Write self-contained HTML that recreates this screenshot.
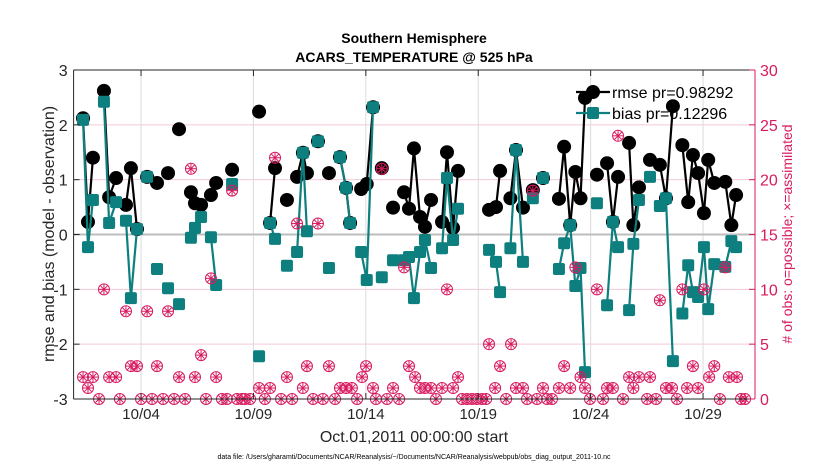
<!DOCTYPE html>
<html><head><meta charset="utf-8">
<style>
html,body{margin:0;padding:0;background:#fff;}
svg{display:block;font-family:"Liberation Sans",sans-serif;}
</style></head>
<body>
<svg id="chart" width="830" height="470" viewBox="0 0 830 470"></svg>
<script>
// ---- data ----
const xTickDays = [3, 8, 13, 18, 23, 28];
const xTickLabels = ["10/04", "10/09", "10/14", "10/19", "10/24", "10/29"];
const yTicksLeft = [-3, -2, -1, 0, 1, 2, 3];
const yTicksRight = [0, 5, 10, 15, 20, 25, 30];

const statDays = [0.42,0.64,0.86,1.35,1.58,1.89,2.33,2.55,2.82,3.27,3.71,4.20,4.69,5.22,5.40,5.67,6.11,6.34,7.05,8.25,8.74,8.96,9.49,9.94,10.20,10.38,10.87,11.36,11.85,12.12,12.30,12.79,13.04,13.32,13.71,14.21,14.70,14.92,15.14,15.41,15.63,15.90,16.39,16.61,16.88,17.10,18.48,18.79,18.97,19.43,19.68,19.99,20.43,20.88,21.59,21.82,22.09,22.32,22.55,22.75,23.28,23.73,23.99,24.22,24.71,24.90,25.15,25.64,26.08,26.35,26.66,27.08,27.34,27.55,27.78,28.04,28.23,28.50,28.99,29.26,29.47];
const rmseVals = [2.12,0.23,1.40,2.62,0.68,1.03,0.54,1.21,0.10,1.05,0.94,1.12,1.92,0.77,0.57,0.54,0.72,0.94,1.18,2.24,0.21,1.21,0.63,1.05,1.49,1.12,1.70,1.12,1.41,0.85,0.21,0.83,0.92,2.32,1.21,0.49,0.77,0.47,1.57,0.32,0.14,0.63,0.23,1.50,0.12,1.16,0.45,0.50,1.16,0.66,1.54,0.49,0.81,1.03,0.65,1.60,0.17,1.14,0.66,2.49,1.09,1.30,0.23,1.05,1.67,0.17,0.86,1.36,1.27,0.66,2.34,1.63,0.59,1.45,1.12,0.39,1.36,0.94,0.96,0.17,0.72];
const biasVals = [2.09,-0.23,0.63,2.42,0.21,0.59,0.25,-1.16,0.10,1.05,-0.63,-0.98,-1.27,-0.06,0.12,0.32,-0.05,-0.92,0.92,-2.22,0.21,-0.08,-0.57,-0.32,1.49,0.06,1.70,-0.61,1.41,0.85,0.21,-0.32,-0.83,2.32,-0.78,-0.47,-0.47,-0.41,-1.16,-0.32,-0.10,-0.61,-0.25,1.03,-0.10,0.47,-0.28,-0.50,-1.05,-0.25,1.54,-0.50,0.66,1.03,-0.63,-0.16,0.17,-0.94,-0.61,-2.51,0.57,-1.29,0.23,-0.23,-1.38,-0.17,0.63,1.05,0.52,0.66,-2.31,-1.44,-0.56,-1.05,-1.14,-0.23,-1.36,-0.54,-0.59,-0.12,-0.23];

const obsDays = [0.42,0.64,0.86,1.13,1.35,1.58,1.89,2.06,2.33,2.55,2.82,3.00,3.27,3.49,3.71,3.98,4.20,4.47,4.69,4.96,5.22,5.40,5.67,5.89,6.11,6.34,6.60,6.82,7.05,7.27,7.49,7.62,7.85,8.25,8.51,8.74,8.96,9.23,9.49,9.72,9.94,10.20,10.38,10.65,10.87,11.09,11.36,11.63,11.85,12.12,12.38,12.61,12.83,13.01,13.32,13.45,13.71,13.94,14.21,14.48,14.70,14.92,15.19,15.41,15.63,15.90,16.12,16.39,16.61,16.88,17.10,17.28,17.50,17.72,17.94,18.17,18.35,18.48,18.75,18.97,19.24,19.46,19.68,19.99,20.17,20.43,20.61,20.88,21.06,21.28,21.59,21.82,22.09,22.32,22.55,22.75,22.97,23.28,23.55,23.73,23.99,24.22,24.44,24.71,24.90,25.15,25.51,25.64,25.91,26.08,26.35,26.62,26.84,27.08,27.29,27.55,27.78,28.04,28.27,28.50,28.75,28.99,29.15,29.51,29.69,29.87];
const obsCounts = [2,1,2,0,10,2,2,0,8,3,3,0,8,0,3,0,8,0,2,0,21,2,4,0,11,2,0,0,19,0,0,0,0,1,0,1,22,0,2,0,16,1,3,0,16,0,3,0,1,1,1,0,2,3,1,0,21,0,1,0,12,3,2,1,1,1,0,1,10,1,2,0,0,0,0,0,0,5,1,3,0,5,1,1,0,19,0,1,0,0,1,3,1,12,2,1,0,10,0,1,1,24,0,2,1,2,0,2,0,9,1,1,0,10,1,3,1,10,2,3,0,12,2,2,0,0];

// ---- scales ----
const L = 73.6, R = 755, T = 70, B = 399;
const X0 = 0, X1 = (R - L) / 22.48;
const xS = d => L + (d - X0) / (X1 - X0) * (R - L);
const yS = v => B - (v + 3) / 6 * (B - T);
const yR = c => B - c / 30 * (B - T);
const PINK = "#d81b60", TEAL = "#0e7f7f";
const svg = document.getElementById('chart');
const NS = "http://www.w3.org/2000/svg";
function mk(tag, attrs, parent) {
  const e = document.createElementNS(NS, tag);
  for (const k in attrs) e.setAttribute(k, attrs[k]);
  (parent || svg).appendChild(e);
  return e;
}
function txt(s, attrs, parent) { const e = mk('text', attrs, parent); e.textContent = s; return e; }

// grid
const grid = mk('g', {});


yTicksLeft.forEach(v => {
  if (v === 0 || v === 3 || v === -3) return;
  mk('line', {x1: L, x2: R, y1: yS(v), y2: yS(v), stroke: '#f3c9d8', 'stroke-width': 1}, grid);
});
xTickDays.forEach(d => mk('line', {x1: xS(d), x2: xS(d), y1: T, y2: B, stroke: '#dcdcdc', 'stroke-width': 1}, grid));
const zl = mk('line', {x1: L, x2: R, y1: yS(0), y2: yS(0), stroke: '#bdbdbd', 'stroke-width': 2});



// series lines
function drawLines(vals, color, name) {
  const g = mk('g', {fill: 'none', stroke: color, 'stroke-width': 2.2});
  
  
  for (let i = 1; i < statDays.length; i++) {
    if (statDays[i] - statDays[i - 1] <= 0.36) {
      mk('line', {x1: xS(statDays[i - 1]), y1: yS(vals[i - 1]), x2: xS(statDays[i]), y2: yS(vals[i])}, g);
    }
  }
}
drawLines(rmseVals, '#000', 'rmse-line');
const rg = mk('g', {fill: '#000'});


statDays.forEach((d, i) => {
  const c = mk('circle', {cx: xS(d), cy: yS(rmseVals[i]), r: 7}, rg);
  
  
});
drawLines(biasVals, TEAL, 'bias-line');
const bg = mk('g', {fill: TEAL});


statDays.forEach((d, i) => {
  const s = mk('rect', {x: xS(d) - 6, y: yS(biasVals[i]) - 6, width: 12, height: 12, rx: 2}, bg);
  
  
});

// obs markers
function obsMarker(cx, cy, parent) {
  const g = mk('g', {stroke: PINK, 'stroke-width': 1, fill: 'none'}, parent);
  mk('circle', {cx, cy, r: 5.5}, g);
  for (let a = 0; a < 4; a++) {
    const ang = a * Math.PI / 4;
    const dx = 5 * Math.cos(ang), dy = 5 * Math.sin(ang);
    mk('line', {x1: cx - dx, y1: cy - dy, x2: cx + dx, y2: cy + dy}, g);
  }
  return g;
}
const og = mk('g', {});


obsDays.forEach((d, i) => {
  const m = obsMarker(xS(d), yR(obsCounts[i]), og);
  
  
});

// axes box
const ax = mk('g', {});


mk('line', {x1: L, x2: R, y1: T, y2: T, stroke: '#262626', 'stroke-width': 1}, ax);
mk('line', {x1: L, x2: R, y1: B, y2: B, stroke: '#262626', 'stroke-width': 1}, ax);
mk('line', {x1: L, x2: L, y1: T, y2: B, stroke: '#262626', 'stroke-width': 1}, ax);
mk('line', {x1: R, x2: R, y1: T, y2: B, stroke: PINK, 'stroke-width': 1}, ax);
yTicksLeft.forEach(v => {
  mk('line', {x1: L, x2: L + 6, y1: yS(v), y2: yS(v), stroke: '#262626'}, ax);
  const t = txt(String(v), {x: L - 6, y: yS(v) + 6, 'text-anchor': 'end', 'font-size': 16, fill: '#262626'}, ax);
  
  
});
yTicksRight.forEach(c => {
  mk('line', {x1: R - 6, x2: R, y1: yR(c), y2: yR(c), stroke: PINK}, ax);
  const t = txt(String(c), {x: R + 5, y: yR(c) + 6, 'font-size': 16, fill: PINK}, ax);
  
  
});
xTickDays.forEach((d, i) => {
  mk('line', {x1: xS(d), x2: xS(d), y1: B, y2: B - 6, stroke: '#262626'}, ax);
  mk('line', {x1: xS(d), x2: xS(d), y1: T, y2: T + 6, stroke: '#262626'}, ax);
  const t = txt(xTickLabels[i], {x: xS(d), y: B + 20, 'text-anchor': 'middle', 'font-size': 15, fill: '#262626'}, ax);
  
  
});
</script>
<svg style="position:absolute;left:0;top:0" width="830" height="470">
  <text x="414" y="43" text-anchor="middle" font-size="14" font-weight="bold" fill="#000" font-family="Liberation Sans, sans-serif">Southern Hemisphere</text>
  <text x="414" y="62" text-anchor="middle" font-size="14" font-weight="bold" fill="#000" font-family="Liberation Sans, sans-serif">ACARS_TEMPERATURE @ 525 hPa</text>
  <text x="414" y="442" text-anchor="middle" font-size="16" fill="#262626" font-family="Liberation Sans, sans-serif">Oct.01,2011 00:00:00 start</text>
  <text transform="translate(54,234) rotate(-90)" text-anchor="middle" font-size="16" fill="#262626" font-family="Liberation Sans, sans-serif">rmse and bias (model - observation)</text>
  <text transform="translate(792,234) rotate(-90)" text-anchor="middle" font-size="14" fill="#d81b60" font-family="Liberation Sans, sans-serif"># of obs: o=possible; ×=assimilated</text>
  <text x="414" y="459" text-anchor="middle" font-size="7" fill="#000" font-family="Liberation Sans, sans-serif">data file: /Users/gharamti/Documents/NCAR/Reanalysis/~/Documents/NCAR/Reanalysis/webpub/obs_diag_output_2011-10.nc</text>
  <g font-family="Liberation Sans, sans-serif" font-size="16">
    <g>
      <line x1="576" y1="92" x2="610" y2="92" stroke="#000" stroke-width="2.2"/>
      <circle cx="593" cy="92" r="7" fill="#000"/>
      <text x="612" y="98" fill="#000">rmse pr=0.98292</text>
    </g>
    <g>
      <line x1="576" y1="113" x2="610" y2="113" stroke="#0e7f7f" stroke-width="2.2"/>
      <rect x="587" y="107" width="12" height="12" rx="2" fill="#0e7f7f"/>
      <text x="612" y="119" fill="#000">bias pr=0.12296</text>
    </g>
  </g>
</svg>
</body></html>
